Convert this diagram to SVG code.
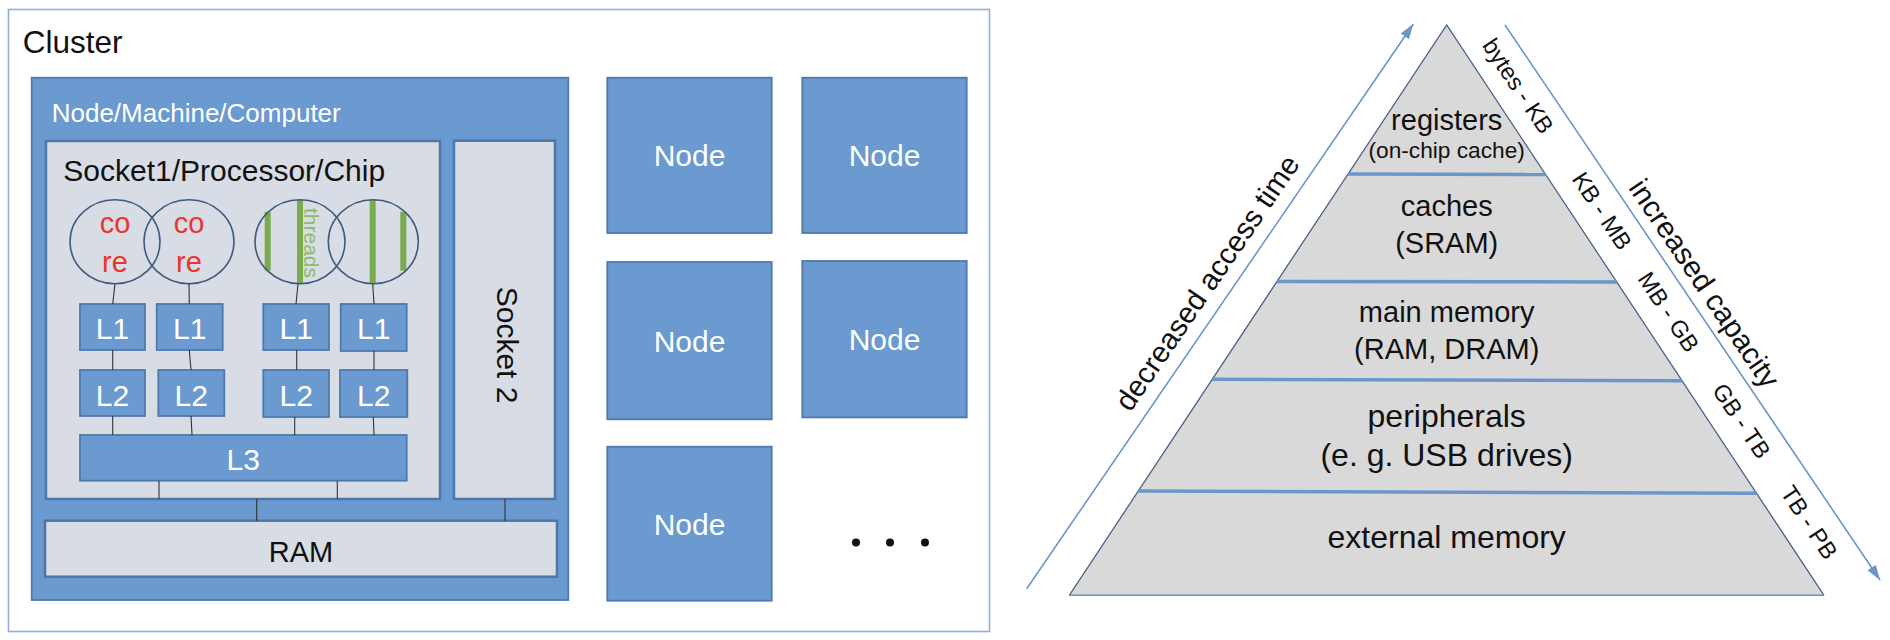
<svg xmlns="http://www.w3.org/2000/svg" width="1890" height="640" viewBox="0 0 1890 640">
<style>
text{font-family:"Liberation Sans",Arial,sans-serif}
.blue{fill:#6a9acf;stroke:#4f79ab;stroke-width:1.8}
.gray{fill:#d8dce4;stroke:#4f76a8;stroke-width:2.5}
.wt{fill:#ffffff}
.bk{fill:#111111}
.conn{stroke:#333333;stroke-width:1.1;fill:none}
.core{fill:none;stroke:#3e5a80;stroke-width:1.6}
.red{fill:#e8352e;font-size:29px;text-anchor:middle}
.bar{fill:#7aab4f}
.lbl{font-size:30px;fill:#ffffff;text-anchor:middle}
.pt{fill:#111111;text-anchor:middle}
.band{stroke:#6a96c9;stroke-width:3.5;fill:none}
.arr{stroke:#6a96c9;stroke-width:1.6;fill:none}
.sz{font-size:23.5px;fill:#111111;text-anchor:middle;dominant-baseline:central}
</style>
<defs>
<marker id="ah" markerUnits="userSpaceOnUse" markerWidth="16" markerHeight="12" refX="15" refY="5" orient="auto">
<path d="M0,0 L15,5 L0,10 z" fill="#6a96c9"/>
</marker>
</defs>

<g id="cluster">
<rect x="8.5" y="9.5" width="981" height="622" fill="#ffffff" stroke="#8fb0d8" stroke-width="1.6"/>
<text x="22.7" y="52.7" font-size="31.5" class="bk">Cluster</text>
</g>

<g id="node-main">
<rect x="31.7" y="77.7" width="536.6" height="522.3" class="blue"/>
<text x="51.7" y="121.7" font-size="26" class="wt">Node/Machine/Computer</text>
</g>

<g id="socket1">
<rect x="46" y="141" width="394" height="358" class="gray"/>
<text x="63.3" y="181" font-size="30" class="bk">Socket1/Processor/Chip</text>
</g>

<g id="socket2">
<rect x="454" y="140.7" width="101" height="358.3" class="gray"/>
<text x="0" y="0" font-size="30" class="bk" transform="translate(497,286.7) rotate(90)">Socket 2</text>
</g>

<g id="ram">
<rect x="45" y="520.7" width="512" height="56" class="gray"/>
<text x="301" y="561.7" font-size="29" class="pt">RAM</text>
</g>

<g id="core1">
<ellipse cx="115" cy="241.7" rx="45" ry="42" class="core"/>
<text x="115" y="233" class="red">co</text>
<text x="115" y="271.7" class="red">re</text>
</g>
<g id="core2">
<ellipse cx="189" cy="241.7" rx="45" ry="42" class="core"/>
<text x="189" y="233" class="red">co</text>
<text x="189" y="271.7" class="red">re</text>
</g>
<g id="core3">
<rect x="264.7" y="211.7" width="6" height="59" class="bar"/>
<rect x="297" y="200" width="6" height="83.3" class="bar"/>
<ellipse cx="300" cy="241.7" rx="45" ry="42" class="core"/>
<text x="0" y="0" font-size="21" fill="#8dbb6a" transform="translate(304,208) rotate(90)">threads</text>
</g>
<g id="core4">
<rect x="369.7" y="200" width="6" height="83.3" class="bar"/>
<rect x="400.3" y="211.7" width="6" height="59" class="bar"/>
<ellipse cx="373.3" cy="241.7" rx="45" ry="42" class="core"/>
</g>

<g id="l1-1"><rect x="80" y="304" width="65" height="46" class="blue"/><text x="112.5" y="339.3" class="lbl">L1</text></g>
<g id="l1-2"><rect x="156.7" y="304" width="66" height="46" class="blue"/><text x="189.7" y="339.3" class="lbl">L1</text></g>
<g id="l1-3"><rect x="263.3" y="304" width="65.7" height="46" class="blue"/><text x="296.2" y="339.3" class="lbl">L1</text></g>
<g id="l1-4"><rect x="340.7" y="304" width="66" height="47" class="blue"/><text x="373.7" y="339.3" class="lbl">L1</text></g>
<g id="l2-1"><rect x="80" y="370" width="65" height="46" class="blue"/><text x="112.5" y="406" class="lbl">L2</text></g>
<g id="l2-2"><rect x="158.3" y="370" width="66" height="46" class="blue"/><text x="191.3" y="406" class="lbl">L2</text></g>
<g id="l2-3"><rect x="263.3" y="370" width="65.7" height="47" class="blue"/><text x="296.2" y="406" class="lbl">L2</text></g>
<g id="l2-4"><rect x="340" y="370" width="67.3" height="47" class="blue"/><text x="373.7" y="406" class="lbl">L2</text></g>
<g id="l3"><rect x="80" y="435" width="326.7" height="45.7" class="blue"/><text x="243.3" y="470" class="lbl">L3</text></g>

<g id="node-a"><rect x="607.3" y="77.7" width="164.4" height="155.3" class="blue"/><text x="689.5" y="166" class="lbl">Node</text></g>
<g id="node-b"><rect x="802.3" y="77.7" width="164.4" height="155.3" class="blue"/><text x="884.5" y="166" class="lbl">Node</text></g>
<g id="node-c"><rect x="607.3" y="262" width="164.4" height="157.3" class="blue"/><text x="689.5" y="351.5" class="lbl">Node</text></g>
<g id="node-d"><rect x="802.3" y="261" width="164.4" height="156.4" class="blue"/><text x="884.5" y="350" class="lbl">Node</text></g>
<g id="node-e"><rect x="607.3" y="446.7" width="164.4" height="154" class="blue"/><text x="689.5" y="534.5" class="lbl">Node</text></g>
<g id="ellipsis">
<circle cx="856" cy="542.6" r="4" fill="#111111"/>
<circle cx="890" cy="542.6" r="4" fill="#111111"/>
<circle cx="925" cy="542.6" r="4" fill="#111111"/>
</g>

<g id="connectors">
<line x1="115" y1="283.7" x2="112.7" y2="304" class="conn"/>
<line x1="189" y1="283.7" x2="189.3" y2="304" class="conn"/>
<line x1="298" y1="283.7" x2="296" y2="304" class="conn"/>
<line x1="372.7" y1="283.7" x2="374" y2="304" class="conn"/>
<line x1="112.7" y1="350" x2="112.7" y2="370" class="conn"/>
<line x1="189.3" y1="350" x2="191" y2="370" class="conn"/>
<line x1="296.7" y1="350" x2="296.7" y2="370" class="conn"/>
<line x1="374" y1="351" x2="374" y2="370" class="conn"/>
<line x1="112.7" y1="416" x2="112.7" y2="435" class="conn"/>
<line x1="191" y1="416" x2="192" y2="435" class="conn"/>
<line x1="294.7" y1="417" x2="294.7" y2="435" class="conn"/>
<line x1="373.3" y1="417" x2="374" y2="435" class="conn"/>
<line x1="159" y1="480.7" x2="159" y2="499" class="conn"/>
<line x1="337.3" y1="480.7" x2="337.3" y2="499" class="conn"/>
<line x1="256.7" y1="499" x2="256.7" y2="520.7" class="conn"/>
<line x1="505" y1="499" x2="505" y2="520.7" class="conn"/>
<line x1="1026.7" y1="588.7" x2="1413.3" y2="24" class="arr" marker-end="url(#ah)"/>
<line x1="1505" y1="25" x2="1880" y2="580" class="arr" marker-end="url(#ah)"/>
</g>

<g id="pyramid">
<polygon points="1446.7,25 1824,595.3 1069.3,595.3" fill="#d9d9d9"/>
<polyline points="1069.3,595.3 1446.7,25 1824,595.3" fill="none" stroke="#4a6484" stroke-width="1.3"/>
<line x1="1069.3" y1="595.3" x2="1824" y2="595.3" stroke="#6b8fc0" stroke-width="1.6"/>
<line x1="1347.9" y1="174" x2="1545.5" y2="174.6" class="band"/>
<line x1="1276.8" y1="281.4" x2="1616.6" y2="282" class="band"/>
<line x1="1212.2" y1="379.3" x2="1682.1" y2="380.7" class="band"/>
<line x1="1138.3" y1="491" x2="1756.6" y2="493.3" class="band"/>
</g>

<g id="level-registers">
<text x="1446.7" y="130" font-size="29" class="pt">registers</text>
<text x="1446.7" y="157.5" font-size="22.7" class="pt">(on-chip cache)</text>
</g>
<g id="level-caches">
<text x="1446.7" y="216" font-size="29" class="pt">caches</text>
<text x="1446.7" y="253.3" font-size="29" class="pt">(SRAM)</text>
</g>
<g id="level-main">
<text x="1446.7" y="322" font-size="29" class="pt">main memory</text>
<text x="1446.7" y="359.3" font-size="29" class="pt">(RAM, DRAM)</text>
</g>
<g id="level-peripherals">
<text x="1446.7" y="426.7" font-size="32" class="pt">peripherals</text>
<text x="1446.7" y="466" font-size="32" class="pt">(e. g. USB drives)</text>
</g>
<g id="level-external">
<text x="1446.7" y="548.3" font-size="32" class="pt">external memory</text>
</g>

<g id="axis-labels">
<text x="0" y="0" font-size="29.5" class="pt" transform="translate(1215.5,288.5) rotate(-55.6)">decreased access time</text>
<text x="0" y="0" font-size="29.5" class="pt" transform="translate(1696,289) rotate(56)">increased capacity</text>
</g>

<g id="size-labels">
<text class="sz" transform="translate(1518,86) rotate(56.5)">bytes - KB</text>
<text class="sz" transform="translate(1602,211) rotate(56.5)">KB - MB</text>
<text class="sz" transform="translate(1668.5,312) rotate(56.5)">MB - GB</text>
<text class="sz" transform="translate(1741.5,421) rotate(56.5)">GB - TB</text>
<text class="sz" transform="translate(1809,522.5) rotate(56.5)">TB - PB</text>
</g>
</svg>
